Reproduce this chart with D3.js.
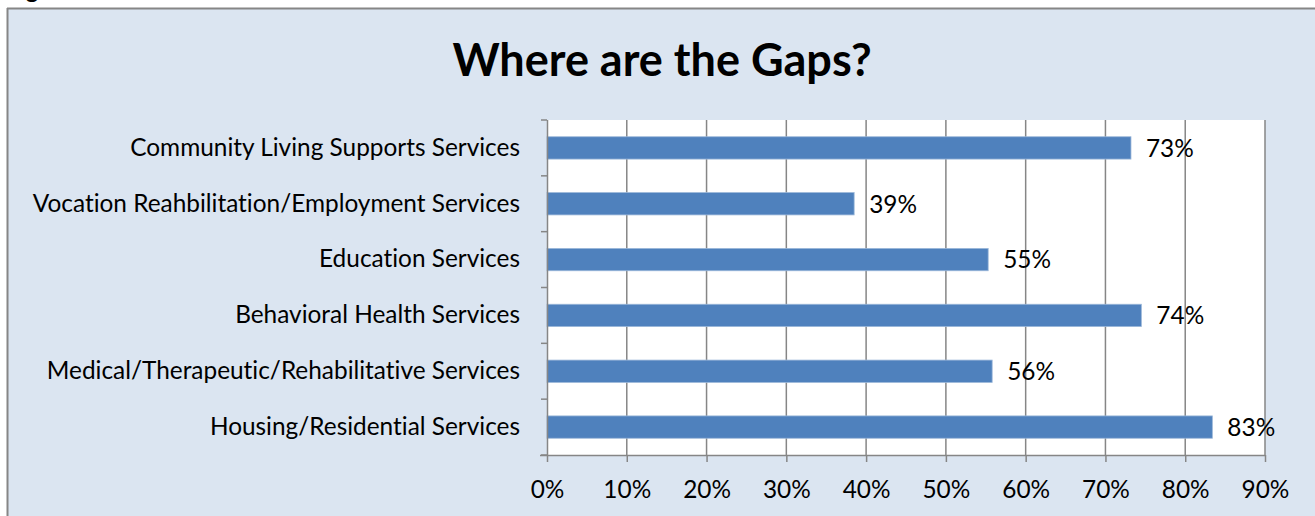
<!DOCTYPE html>
<html><head><meta charset="utf-8">
<script src="https://cdn.jsdelivr.net/npm/d3@7"></script>
<style>
html,body{margin:0;padding:0;background:#fff;}
svg{display:block;}
text{font-family:Lato,"Open Sans",sans-serif;fill:#000;font-variant-ligatures:none;font-feature-settings:"liga" 0,"clig" 0;}
</style></head>
<body>
<svg id="c" width="1315" height="516"></svg>
<script>
const categories = [
  "Community Living Supports Services",
  "Vocation Reahbilitation/Employment Services",
  "Education Services",
  "Behavioral Health Services",
  "Medical/Therapeutic/Rehabilitative Services",
  "Housing/Residential Services"
];
const values = [0.732, 0.385, 0.553, 0.745, 0.558, 0.834];
const valueLabels = ["73%", "39%", "55%", "74%", "56%", "83%"];
const xTicks = [0, 0.1, 0.2, 0.3, 0.4, 0.5, 0.6, 0.7, 0.8, 0.9];
const title = "Where are the Gaps?";

const svg = d3.select("#c");
const W = 1315, H = 516;
const plot = {left: 547, right: 1265, top: 120, bottom: 455};
const FS = 24.4;

// frame background
svg.append("rect").attr("x", 8).attr("y", 9).attr("width", W).attr("height", H)
  .attr("fill", "#dbe5f1");
svg.append("line").attr("x1", 7).attr("x2", W).attr("y1", 8.5).attr("y2", 8.5)
  .attr("stroke", "#868686").attr("stroke-width", 2);
svg.append("line").attr("x1", 7.5).attr("x2", 7.5).attr("y1", 8).attr("y2", H)
  .attr("stroke", "#868686").attr("stroke-width", 2);

// clipped caption above frame (only descenders visible, as in the reference)
svg.append("text").attr("x", 6).attr("y", -2).attr("font-size", 24)
  .attr("font-weight", "bold").text("Figure");

// title
svg.append("text").attr("x", 662).attr("y", 76).attr("text-anchor", "middle")
  .attr("font-size", 45).attr("font-weight", "bold").text(title);

const x = d3.scaleLinear().domain([0, 0.9]).range([plot.left, plot.right]);
const y = d3.scaleBand().domain(categories).range([plot.top, plot.bottom]).paddingInner(0.6).paddingOuter(0.3);
const yb = d3.scaleBand().domain(categories).range([plot.top, plot.bottom]);

svg.append("rect").attr("x", plot.left).attr("y", plot.top)
  .attr("width", plot.right - plot.left).attr("height", plot.bottom - plot.top).attr("fill", "#fff");

// gridlines
svg.append("g").selectAll("line").data(xTicks.slice(1)).join("line")
  .attr("x1", d => x(d)).attr("x2", d => x(d))
  .attr("y1", plot.top).attr("y2", plot.bottom)
  .attr("stroke", "#868686").attr("stroke-width", 1.5);

// bars
svg.append("g").selectAll("rect").data(categories).join("rect")
  .attr("x", x(0)).attr("y", (d) => y(d))
  .attr("width", (d, i) => x(values[i]) - x(0))
  .attr("height", y.bandwidth())
  .attr("fill", "#4f81bd").attr("stroke", "#9bb7d9").attr("stroke-width", 0.8);

// value labels
svg.append("g").selectAll("text").data(categories).join("text")
  .attr("x", (d, i) => x(values[i]) + 15)
  .attr("y", d => y(d) + y.bandwidth() / 2)
  .attr("dy", "0.36em").attr("font-size", FS)
  .text((d, i) => valueLabels[i]);

// x axis
const xAxis = d3.axisBottom(x).tickValues(xTicks).tickFormat(d3.format(".0%")).tickSize(7);
const gx = svg.append("g").attr("transform", `translate(0,${plot.bottom})`).call(xAxis);
gx.select(".domain").attr("stroke", "#868686").attr("stroke-width", 1.5).attr("d", `M${plot.left - 7},0.5H${plot.right}`);
gx.selectAll(".tick line").attr("stroke", "#868686").attr("stroke-width", 1.5);
gx.selectAll(".tick text").attr("font-size", FS).attr("font-family", "Lato, 'Open Sans', sans-serif")
  .attr("fill", "#000").attr("y", 43).attr("dy", 0);

// y axis
const yAxis = d3.axisLeft(yb).tickSize(0).tickPadding(27);
const gy = svg.append("g").attr("transform", `translate(${plot.left},0)`).call(yAxis);
gy.select(".domain").attr("stroke", "#868686").attr("stroke-width", 1.5).attr("d", `M0.5,${plot.top}V${plot.bottom}`);
gy.selectAll(".tick text").attr("font-size", FS).attr("font-family", "Lato, 'Open Sans', sans-serif").attr("fill", "#000");
// category boundary tick marks
svg.append("g").selectAll("line").data(d3.range(categories.length + 1)).join("line")
  .attr("x1", plot.left - 6).attr("x2", plot.left)
  .attr("y1", i => plot.top + i * yb.step()).attr("y2", i => plot.top + i * yb.step())
  .attr("stroke", "#868686").attr("stroke-width", 1.5);
</script>
</body></html>
